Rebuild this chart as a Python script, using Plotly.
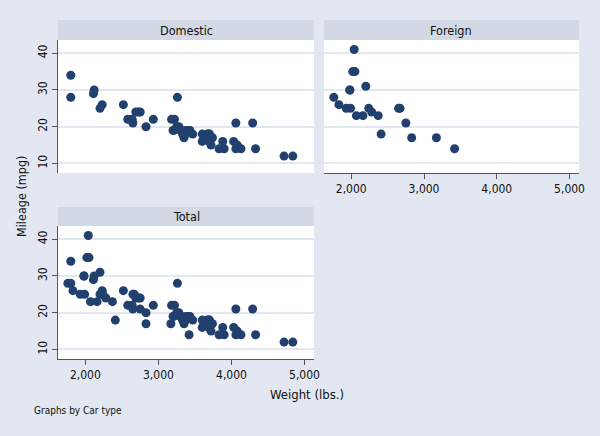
import plotly.graph_objects as go

# Auto dataset: weight (lbs.) and mileage (mpg)
dom_weight = [2930, 3350, 2640, 3250, 4080, 3670, 2230, 3280, 3880, 3400, 4330, 3900, 4290,
              2110, 3690, 3180, 3220, 2750, 3430, 2120, 3600, 3600, 3740, 1800, 2650, 4840,
              4720, 3830, 2580, 4060, 3720, 3370, 4130, 2830, 4060, 3310, 3300, 3690, 3370,
              2730, 4030, 3260, 1800, 2200, 2520, 3330, 3700, 3470, 3210, 3200, 3420, 2690]
dom_mpg = [22, 17, 22, 20, 15, 18, 26, 20, 16, 19, 14, 14, 21,
           29, 16, 22, 22, 24, 19, 30, 18, 16, 17, 28, 21, 12,
           12, 14, 22, 14, 15, 18, 14, 20, 21, 19, 19, 18, 19,
           24, 16, 28, 34, 25, 26, 18, 18, 18, 19, 19, 19, 24]
for_weight = [2830, 2070, 2650, 2370, 2020, 2280, 2750, 1980, 2240, 1760, 1980,
              3420, 1830, 2050, 2410, 2200, 2670, 2160, 2040, 1930, 1990, 3170]
for_mpg = [17, 23, 25, 23, 35, 24, 21, 30, 25, 28, 30,
           14, 26, 35, 18, 31, 25, 23, 41, 25, 25, 17]

panel_titles = ["Domestic", "Foreign", "Total"]
x_ticks = [2000, 3000, 4000, 5000]
x_ticklabels = ["2,000", "3,000", "4,000", "5,000"]
y_ticks = [10, 20, 30, 40]

W, H = 600, 436
BG = "#E3E7F1"
STRIP = "#D2D8E4"
MARK = "#22406E"
FONT = "DejaVu Sans Condensed, Liberation Sans Narrow, sans-serif"

def px_x(p):
    return p / W

def px_y(p):
    return 1 - p / H

# panel rectangles in pixels: (x0, x1, y_top, y_bottom, strip_top)
panels = [
    (58, 314, 40, 173, 20),
    (324, 579, 40, 173, 20),
    (58, 314, 226, 359, 207),
]
show_y = [True, False, True]
show_x = [False, True, True]
xr = [1625, 5130]
yr = [7.4, 43.6]

fig = go.Figure()
data = [(dom_weight, dom_mpg), (for_weight, for_mpg),
        (dom_weight + for_weight, dom_mpg + for_mpg)]

shapes = []
annotations = []
layout = {}
for i, ((xs, ys), (x0, x1, yt, yb, st)) in enumerate(zip(data, panels)):
    n = "" if i == 0 else str(i + 1)
    fig.add_trace(go.Scatter(x=xs, y=ys, mode="markers",
                             marker=dict(color=MARK, size=9),
                             xaxis="x" + n, yaxis="y" + n, showlegend=False,
                             hoverinfo="skip"))
    layout["xaxis" + n] = dict(
        domain=[px_x(x0), px_x(x1)], anchor="y" + n, range=xr, automargin=False,
        tickvals=x_ticks, ticktext=x_ticklabels, showgrid=False, zeroline=False,
        showline=show_x[i], linecolor="#555555", linewidth=1,
        ticks="outside" if show_x[i] else "", ticklen=5, tickcolor="#555555",
        showticklabels=show_x[i], tickfont=dict(family=FONT, size=12, color="#111111"))
    layout["yaxis" + n] = dict(
        domain=[px_y(yb), px_y(yt)], anchor="x" + n, range=yr, automargin=False,
        tickvals=y_ticks, showgrid=True, gridcolor=BG, gridwidth=2, zeroline=False,
        showline=show_y[i], linecolor="#555555", linewidth=1,
        ticks="outside" if show_y[i] else "", ticklen=5, tickcolor="#555555",
        showticklabels=show_y[i], tickangle=-90,
        tickfont=dict(family=FONT, size=12, color="#111111"))
    # white plot region
    shapes.append(dict(type="rect", xref="paper", yref="paper", layer="below",
                       x0=px_x(x0), x1=px_x(x1), y0=px_y(yb), y1=px_y(yt),
                       fillcolor="white", line=dict(width=0)))
    # strip
    shapes.append(dict(type="rect", xref="paper", yref="paper",
                       x0=px_x(x0), x1=px_x(x1), y0=px_y(yt), y1=px_y(st),
                       fillcolor=STRIP, line=dict(width=0)))
    annotations.append(dict(text=panel_titles[i], xref="paper", yref="paper",
                            x=px_x((x0 + x1) / 2), y=px_y((yt + st) / 2),
                            xanchor="center", yanchor="middle", showarrow=False,
                            font=dict(family=FONT, size=12.5, color="#111111")))

annotations.append(dict(text="Mileage (mpg)", xref="paper", yref="paper",
                        x=px_x(21), y=px_y(197), textangle=-90, xanchor="center",
                        yanchor="middle", showarrow=False,
                        font=dict(family=FONT, size=12.5, color="#111111")))
annotations.append(dict(text="Weight (lbs.)", xref="paper", yref="paper",
                        x=px_x(307), y=px_y(394), xanchor="center", yanchor="middle",
                        showarrow=False, font=dict(family=FONT, size=13, color="#111111")))
annotations.append(dict(text="Graphs by Car type", xref="paper", yref="paper",
                        x=px_x(32), y=px_y(410), xanchor="left", yanchor="middle",
                        showarrow=False, font=dict(family=FONT, size=10, color="#111111")))

fig.update_layout(width=W, height=H, autosize=False,
                  margin=dict(l=0, r=0, t=0, b=0),
                  paper_bgcolor=BG, plot_bgcolor="rgba(0,0,0,0)",
                  shapes=shapes, annotations=annotations, **layout)
fig.write_html("out.html", config={"displayModeBar": False},
               post_script="document.body.style.margin='0';"
                           "document.body.style.overflow='hidden';"
                           "document.body.style.background='" + BG + "';")
